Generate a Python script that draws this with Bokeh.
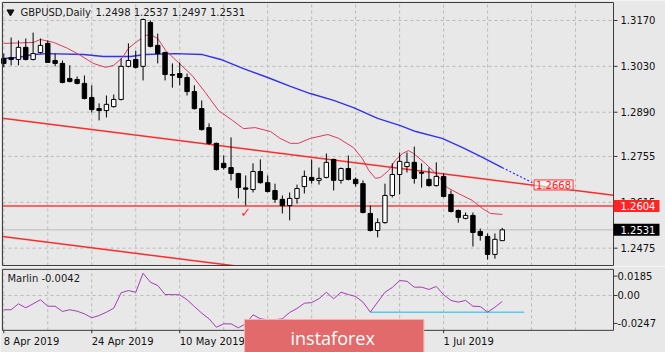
from bokeh.plotting import figure
from bokeh.models import Range1d, Label, ColumnDataSource
from bokeh.core.properties import value
from bokeh.layouts import column
from bokeh.embed import file_html
from bokeh.resources import INLINE

# ---------------- data ----------------
bar_index = list(range(69))  # trading days 8 Apr 2019 .. 11 Jul 2019
open_ = [1.3054, 1.3057, 1.3051, 1.3088, 1.3051, 1.3072, 1.3100, 1.3048, 1.3039, 1.2993,
         1.2990, 1.2978, 1.2935, 1.2901, 1.2895, 1.2907, 1.2929, 1.3030, 1.3051, 1.3030,
         1.3164, 1.3094, 1.3072, 1.3005, 1.3008, 1.2996, 1.2953, 1.2901, 1.2843, 1.2795,
         1.2734, 1.2721, 1.2703, 1.2659, 1.2654, 1.2709, 1.2675, 1.2651, 1.2624, 1.2605,
         1.2627, 1.2663, 1.2691, 1.2682, 1.2691, 1.2746, 1.2682, 1.2718, 1.2685, 1.2672,
         1.2581, 1.2529, 1.2553, 1.2636, 1.2700, 1.2724, 1.2737, 1.2706, 1.2685, 1.2666,
         1.2694, 1.2639, 1.2590, 1.2566, 1.2575, 1.2526, 1.2511, 1.2456, 1.2498]
high = [1.3069, 1.3118, 1.3109, 1.3115, 1.3133, 1.3115, 1.3109, 1.3069, 1.3048, 1.3033,
        1.2999, 1.3002, 1.2972, 1.2917, 1.2941, 1.2944, 1.3054, 1.3100, 1.3078, 1.3176,
        1.3170, 1.3130, 1.3075, 1.3039, 1.3042, 1.3008, 1.2972, 1.2926, 1.2856, 1.2797,
        1.2758, 1.2813, 1.2705, 1.2697, 1.2734, 1.2746, 1.2697, 1.2672, 1.2636, 1.2645,
        1.2669, 1.2712, 1.2746, 1.2721, 1.2764, 1.2748, 1.2721, 1.2758, 1.2691, 1.2682,
        1.2605, 1.2566, 1.2672, 1.2734, 1.2767, 1.2767, 1.2785, 1.2734, 1.2721, 1.2737,
        1.2703, 1.2651, 1.2593, 1.2584, 1.2584, 1.2535, 1.2520, 1.2520, 1.2537]
low = [1.3027, 1.3033, 1.3033, 1.3048, 1.3048, 1.3069, 1.3042, 1.3030, 1.2978, 1.2981,
       1.2975, 1.2929, 1.2889, 1.2865, 1.2874, 1.2904, 1.2926, 1.3027, 1.3023, 1.2987,
       1.3088, 1.3039, 1.2987, 1.2965, 1.2972, 1.2941, 1.2898, 1.2834, 1.2791, 1.2712,
       1.2715, 1.2682, 1.2627, 1.2605, 1.2645, 1.2672, 1.2645, 1.2614, 1.2581, 1.2560,
       1.2611, 1.2642, 1.2672, 1.2669, 1.2688, 1.2651, 1.2672, 1.2682, 1.2663, 1.2581,
       1.2526, 1.2508, 1.2550, 1.2630, 1.2639, 1.2706, 1.2672, 1.2660, 1.2663, 1.2663,
       1.2630, 1.2584, 1.2553, 1.2563, 1.2480, 1.2498, 1.2440, 1.2443, 1.2497]
close = [1.3039, 1.3051, 1.3088, 1.3051, 1.3069, 1.3094, 1.3042, 1.3039, 1.2981, 1.2984,
         1.2978, 1.2932, 1.2898, 1.2895, 1.2914, 1.2929, 1.3030, 1.3048, 1.3027, 1.3173,
         1.3091, 1.3069, 1.3005, 1.3003, 1.2996, 1.2953, 1.2901, 1.2837, 1.2795, 1.2715,
         1.2721, 1.2703, 1.2660, 1.2655, 1.2709, 1.2675, 1.2648, 1.2624, 1.2605, 1.2627,
         1.2657, 1.2694, 1.2682, 1.2688, 1.2737, 1.2682, 1.2718, 1.2685, 1.2672, 1.2584,
         1.2529, 1.2553, 1.2636, 1.2700, 1.2740, 1.2737, 1.2688, 1.2704, 1.2666, 1.2694,
         1.2633, 1.2587, 1.2569, 1.2575, 1.2523, 1.2514, 1.2456, 1.2502, 1.2531]

red_ma_x = [0, 4.05, 5.0, 6.8, 8.7, 10.5, 12.2, 13.9, 15.0, 16.2, 17.0, 18.0, 19.3, 20.0,
            21.0, 22.1, 23.8, 25.7, 27.5, 29.3, 31.2, 32.7, 34.3, 36.4, 37.7, 39.1, 40.2,
            41.8, 44.2, 45.7, 47.7, 48.9, 49.8, 50.7, 51.4, 52.5, 53.4, 54.4, 55.2, 55.9,
            57.5, 59.2, 60.5, 62.0, 63.9, 65.3, 66.4, 68.0]
red_ma_y = [1.3100, 1.3103, 1.3112, 1.3103, 1.3085, 1.3063, 1.3039, 1.3027, 1.3033, 1.3057,
            1.3085, 1.3103, 1.3124, 1.3127, 1.3115, 1.3078, 1.3042, 1.3002, 1.2950, 1.2895,
            1.2865, 1.2840, 1.2843, 1.2831, 1.2810, 1.2795, 1.2795, 1.2810, 1.2822, 1.2810,
            1.2782, 1.2749, 1.2712, 1.2688, 1.2691, 1.2712, 1.2743, 1.2764, 1.2773, 1.2764,
            1.2734, 1.2697, 1.2660, 1.2642, 1.2621, 1.2596, 1.2581, 1.2578]

blue_ma_x = [0, 1.9, 4.05, 6.0, 10.9, 13.6, 17.3, 19.3, 23.4, 27.1, 29.6, 32.7, 36.0, 39.1,
             41.8, 45.0, 47.7, 51.0, 54.1, 56.2, 59.8, 62.6, 65.3, 68.0]
blue_ma_y = [1.3054, 1.3057, 1.3066, 1.3069, 1.3066, 1.3060, 1.3060, 1.3066, 1.3069, 1.3066,
             1.3051, 1.3023, 1.2996, 1.2969, 1.2947, 1.2926, 1.2904, 1.2871, 1.2849, 1.2831,
             1.2810, 1.2782, 1.2752, 1.2721]
blue_proj_x = [68.0, 72.1]
blue_proj_y = [1.2721, 1.2675]

# trend channel anchors (at the panel's left and right edges)
trend_x = [-0.18, 83.18]
trend_upper = [1.28715, 1.26365]
trend_lower = [1.25105, 1.22755]
level_price = 1.2604
last_price = 1.2531
trend_label_price = 1.2668

price_ticks = [1.3170, 1.3030, 1.2890, 1.2755, 1.2615, 1.2475]
price_tick_labels = ["1.3170", "1.3030", "1.2890", "1.2755", "1.2615", "1.2475"]

marlin = [-0.0101, -0.0101, -0.0059, -0.0087, -0.0059, -0.0030, -0.0076, -0.0076, -0.0113, -0.0101,
          -0.0111, -0.0130, -0.0158, -0.0142, -0.0118, -0.0090, 0.0019, 0.0035, 0.0023, 0.0158,
          0.0094, 0.0071, 0.0007, 0.0006, 0.0005, -0.0030, -0.0078, -0.0125, -0.0165, -0.0225,
          -0.0201, -0.0201, -0.0229, -0.0201, -0.0137, -0.0165, -0.0172, -0.0172, -0.0165, -0.0120,
          -0.0092, -0.0055, -0.0050, -0.0023, 0.0023, -0.0023, 0.0023, 0.0007, -0.0007, -0.0047,
          -0.0118, -0.0047, 0.0023, 0.0057, 0.0106, 0.0101, 0.0059, 0.0059, 0.0043, 0.0064,
          0.0005, -0.0035, -0.0047, -0.0035, -0.0076, -0.0078, -0.0118, -0.0083, -0.0042]
marlin_support_x = [50, 71]
marlin_support_y = [-0.0118, -0.0118]
marlin_max = 0.0185
marlin_min = -0.0247
marlin_tick_labels = ["0.0185", "0.00", "-0.0247"]
marlin_tick_pos = [0.0137, 0.0, -0.0198]   # the terminal draws extreme labels just inside the edges

date_ticks = [0, 12, 24, 36, 48, 60]
date_labels = ["8 Apr 2019", "24 Apr 2019", "10 May 2019", "28 May 2019", "13 Jun 2019", "1 Jul 2019"]
grid_x = list(range(0, 84, 6))

# ---------------- layout constants ----------------
BG = "#e8e8e8"
FONT = "DejaVu Sans"
GRID = "#b9b9b9"
FRAME = "#3a3a3a"
X_LEFT, X_RIGHT = -0.18, 83.18          # panel edges (bar units)
P1_TOP, P1_BOTTOM = 1.32249, 1.24221    # main panel edges (price)
x_range = Range1d(-0.45, 90.27)
LABEL_X = 84.13
LABEL_X2 = 83.72
TICK_END = 83.73
BOX_RIGHT = 89.45
BOX_HALF = 0.00183


def new_fig(height, y_range):
    p = figure(width=665, height=height, x_range=x_range, y_range=y_range,
               x_axis_location=None, y_axis_location=None, toolbar_location=None,
               output_backend="svg", min_border_left=0, min_border_right=0,
               min_border_top=0, min_border_bottom=0)
    p.background_fill_color = BG
    p.border_fill_color = BG
    p.outline_line_color = None
    p.grid.visible = False
    return p


def txt(p, x, y, text, size="10px", color="#111111", align="left", font=FONT, **kw):
    p.text(x=x, y=y, text=text, text_font=value(font), text_font_size=size,
           text_color=color, text_align=align, text_baseline="middle", **kw)


# ---------------- main price panel ----------------
p1 = new_fig(266, Range1d(1.24191, 1.32310))

# grid
p1.segment(x0=grid_x, y0=[P1_BOTTOM] * len(grid_x), x1=grid_x, y1=[P1_TOP] * len(grid_x),
           color=GRID, line_width=1, line_dash="3 3")
p1.segment(x0=[X_LEFT] * len(price_ticks), y0=price_ticks, x1=[X_RIGHT] * len(price_ticks),
           y1=price_ticks, color=GRID, line_width=1, line_dash="3 3")

# trend lines and levels
p1.line(trend_x, trend_upper, color="#ff2a2a", line_width=1.5)
p1.line(trend_x, trend_lower, color="#ff2a2a", line_width=1.5)
p1.line(trend_x, [level_price, level_price], color="#ff3b3b", line_width=1.5)
p1.line(trend_x, [last_price, last_price], color="#bdbdbd", line_width=1)

# moving averages
p1.line(blue_ma_x, blue_ma_y, color="#3232f0", line_width=1.4)
p1.line(blue_proj_x, blue_proj_y, color="#3232f0", line_width=1.2, line_dash="2 2")
p1.line(red_ma_x, red_ma_y, color="#dc3a5c", line_width=1)

# candles
up = [c >= o for o, c in zip(open_, close)]
src = ColumnDataSource(dict(
    x=bar_index, high=high, low=low,
    top=[max(o, c) for o, c in zip(open_, close)],
    bottom=[min(o, c) for o, c in zip(open_, close)],
    fill=["white" if u else "black" for u in up],
))
p1.segment(x0="x", y0="low", x1="x", y1="high", source=src, color="black", line_width=1)
p1.vbar(x="x", width=0.6, top="top", bottom="bottom", source=src,
        fill_color="fill", line_color="black", line_width=1)

# panel frame and price scale
p1.quad(left=[X_LEFT], right=[X_RIGHT], top=[P1_TOP], bottom=[P1_BOTTOM],
        fill_color=None, line_color=FRAME, line_width=1)
p1.segment(x0=[X_RIGHT] * len(price_ticks), y0=price_ticks, x1=[TICK_END] * len(price_ticks),
           y1=price_ticks, color=FRAME, line_width=1)
txt(p1, [LABEL_X] * len(price_ticks), price_ticks, price_tick_labels)

# price tags on the scale
p1.quad(left=[X_RIGHT, X_RIGHT], right=[BOX_RIGHT, BOX_RIGHT],
        top=[level_price + BOX_HALF, last_price + BOX_HALF],
        bottom=[level_price - BOX_HALF, last_price - BOX_HALF],
        fill_color=["#ff2424", "black"], line_color=None)
txt(p1, [LABEL_X, LABEL_X], [level_price, last_price], ["1.2604", "1.2531"], color="white")

txt(p1, [75.0], [trend_label_price], ["1.2668"], color="#ff2020", align="center",
    background_fill_color="white", background_fill_alpha=0.55, border_line_color="#ff3030",
    padding=dict(left=2, right=2, top=1, bottom=1))

p1.scatter([0.91], [1.3196], marker="inverted_triangle", size=7, color="#111111")
p1.add_layout(Label(x=2.28, y=1.31944, text="GBPUSD,Daily", text_font=FONT,
                    text_font_size="10px", text_color="#1a1a1a", text_baseline="middle"))
p1.add_layout(Label(x=12.51, y=1.31944, text="1.2498 1.2537 1.2497 1.2531", text_font=FONT,
                    text_font_size="10px", text_color="#1a1a1a", text_baseline="middle"))
p1.add_layout(Label(x=33.0, y=1.2584, text="✓", text_font=FONT, text_font_size="13px",
                    text_color="#ff3030", text_align="center", text_baseline="middle"))

# ---------------- indicator panel ----------------
p2 = new_fig(86, Range1d(-0.0404, 0.02055))
p2.segment(x0=grid_x, y0=[marlin_min] * len(grid_x), x1=grid_x, y1=[marlin_max] * len(grid_x),
           color=GRID, line_width=1, line_dash="3 3")
p2.segment(x0=[X_LEFT], y0=[0.0], x1=[X_RIGHT], y1=[0.0], color=GRID, line_width=1, line_dash="3 3")

p2.line(marlin_support_x, marlin_support_y, color="#5cc8ee", line_width=1.5)
p2.line(bar_index, marlin, color="#a33db5", line_width=1)

p2.quad(left=[X_LEFT], right=[X_RIGHT], top=[marlin_max], bottom=[marlin_min],
        fill_color=None, line_color=FRAME, line_width=1)
p2.segment(x0=[X_RIGHT] * 3, y0=marlin_tick_pos, x1=[TICK_END] * 3, y1=marlin_tick_pos,
           color=FRAME, line_width=1)
txt(p2, [LABEL_X2] * 3, marlin_tick_pos, marlin_tick_labels)

p2.segment(x0=date_ticks, y0=[marlin_min] * len(date_ticks), x1=date_ticks,
           y1=[-0.0268] * len(date_ticks), color=FRAME, line_width=1)
txt(p2, date_ticks, [-0.0326] * len(date_ticks), date_labels)

txt(p2, [0.5], [0.0123], ["Marlin -0.0042"], color="#1a1a1a")

# watermark
txt(p2, [32.84], [-0.02977], ["instaforex"], size="18px", color="white", font="Open Sans",
    background_fill_color="#e26a6a", border_line_color="#f3b2b2",
    padding=dict(left=46, right=49, top=6, bottom=6))

layout = column(p1, p2, spacing=0)
open("out.html", "w").write(file_html(layout, INLINE))
